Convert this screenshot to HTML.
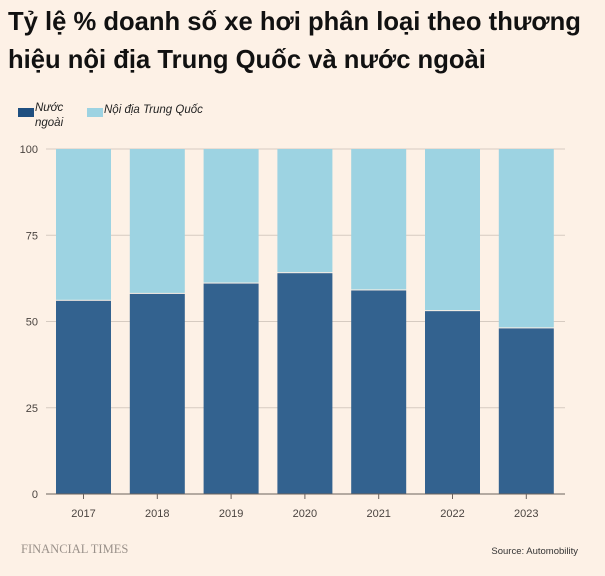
<!DOCTYPE html>
<html><head><meta charset="utf-8"><style>
body{margin:0;background:#fdf1e6;width:605px;height:576px;overflow:hidden;font-family:"Liberation Sans","DejaVu Sans",sans-serif}
#title{position:absolute;left:8px;top:2px;font-size:26px;font-weight:bold;color:#111;line-height:38px;white-space:nowrap;transform-origin:0 0;transform:scaleX(0.985)}
</style></head><body>
<div id="title">Tỷ lệ % doanh số xe hơi phân loại theo thương<br>hiệu nội địa Trung Quốc và nước ngoài</div>
<svg id="chart" width="605" height="576" style="position:absolute;left:0;top:0"></svg>
<script>
const years=["2017","2018","2019","2020","2021","2022","2023"];
const foreign=[56,58,61,64,59,53,48];
const domestic=[44,42,39,36,41,47,52];
const ticks=[0,25,50,75,100];
const NS="http://www.w3.org/2000/svg";
const svg=document.getElementById('chart');
const x0=46,x1=565,yTop=149,yBot=494;
const y=v=>yBot-(v/100)*(yBot-yTop);
const step=73.8,bw=55,first=56;
const bx=i=>first+i*step;
function mk(t,a,txt){const e=document.createElementNS(NS,t);for(const k in a)e.setAttribute(k,a[k]);if(txt!=null)e.textContent=txt;svg.appendChild(e);return e;}
ticks.forEach(t=>{
 const l=mk('line',{x1:x0,x2:x1,y1:y(t),y2:y(t),stroke:t===0?'#6b625c':'#d6cbc1','stroke-width':1});
 
 
 const tx=mk('text',{x:38,y:y(t)+4,'text-anchor':'end','font-size':11,fill:'#4a4440','font-family':'Liberation Sans, sans-serif'},String(t));
 
 
});
years.forEach((yr,i)=>{
 const f=mk('rect',{x:bx(i),y:y(foreign[i]),width:bw,height:yBot-y(foreign[i]),fill:'#33628f'});
 
 
 const d=mk('rect',{x:bx(i),y:y(foreign[i]+domestic[i]),width:bw,height:y(foreign[i])-y(foreign[i]+domestic[i])-1,fill:'#9dd3e2'});
 
 
 const tk=mk('line',{x1:bx(i)+bw/2,x2:bx(i)+bw/2,y1:yBot,y2:yBot+5,stroke:'#6b625c'});
 
 
 const lb=mk('text',{x:bx(i)+bw/2,y:yBot+23,'text-anchor':'middle','font-size':11,fill:'#4a4440','font-family':'Liberation Sans, sans-serif'},yr);
 
 
});
const a=mk('line',{x1:x0,x2:x1,y1:yBot,y2:yBot,stroke:'#6b625c','stroke-width':1});


const l1=mk('rect',{x:18,y:108,width:16,height:9,fill:'#1f4f80'});


const t1=mk('text',{x:35,y:111,'font-size':11.5,'font-style':'italic',fill:'#222'});


t1.innerHTML='<tspan x="35" dy="0">Nước</tspan><tspan x="35" dy="15">ngoài</tspan>';
const l2=mk('rect',{x:87,y:108,width:16,height:9,fill:'#9dd3e2'});


const t2=mk('text',{x:104,y:113,'font-size':11.5,'font-style':'italic',fill:'#222'},'Nội địa Trung Quốc');


const ft=mk('text',{x:21,y:553,'font-size':12.5,fill:'#9a918a','font-family':'Liberation Serif, serif'},'FINANCIAL TIMES');


const src=mk('text',{x:578,y:554,'text-anchor':'end','font-size':9.5,fill:'#333'},'Source: Automobility');


</script>
</body></html>
